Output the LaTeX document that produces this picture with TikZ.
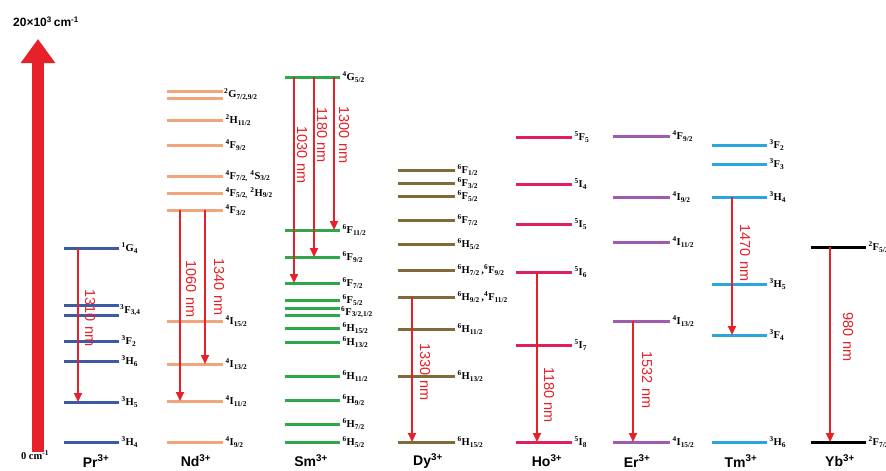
\documentclass[tikz,border=0pt]{standalone}
\usepackage{fontspec}
\setmainfont{Liberation Serif}
\newfontfamily\sansf{Liberation Sans}
\usetikzlibrary{arrows.meta}
\definecolor{prc}{HTML}{3B5BA5}
\definecolor{ndc}{HTML}{F2A47C}
\definecolor{smc}{HTML}{2DA84A}
\definecolor{dyc}{HTML}{7F6B3A}
\definecolor{hoc}{HTML}{E0205C}
\definecolor{erc}{HTML}{A05AAE}
\definecolor{tmc}{HTML}{2AA5DD}
\definecolor{arc}{HTML}{E62129}
\newcommand\tl[3]{\textsuperscript{#1}#2\textsubscript{#3}}
\newcommand\lv[6]{\draw[lvl,draw=#5] (#2,#4) -- (#3,#4) node[lab] (#1) {#6};}
\newcommand\bareline[4]{\draw[lvl,draw=#4] (#1,#3) -- (#2,#3);}
\tikzset{
 lvl/.style={line width=3pt},
 lab/.style={anchor=west,inner sep=1pt,font=\fontsize{10.5}{11}\selectfont\bfseries},
 tr/.style={draw=arc,line width=2.1pt,-{Triangle[length=9pt,width=8pt]}},
 wl/.style={text=arc,rotate=-90,inner sep=0pt,font=\sansf\fontsize{14.5}{16}\selectfont},
 ion/.style={inner sep=0pt,font=\sansf\bfseries\fontsize{14}{16}\selectfont},
}
\begin{document}
\begin{tikzpicture}[x=1pt,y=-1pt]
\useasboundingbox (0,0) rectangle (886,471);
\clip (0,0) rectangle (886,471);
% energy axis
\coordinate (axb) at (38,452);
\coordinate (axt) at (38,39);
\draw[draw=arc,line width=12pt,-{Triangle[length=24pt,width=33pt]}] (axb) -- (axt);
\node[inner sep=0pt,font=\sansf\bfseries\fontsize{12}{14}\selectfont] (top) at (46,22) {20×10\textsuperscript{3}\,cm\textsuperscript{-1}};
\node[inner sep=0pt,font=\bfseries\fontsize{10.5}{12}\selectfont] (zero) at (35,455) {0 cm\textsuperscript{-1}};
% Pr
\lv{pr1}{64}{119}{248}{prc}{\tl{1}{G}{4}}
\bareline{64}{119}{305}{prc}
\bareline{64}{119}{315}{prc}
\node[lab] (pr2) at (119,310) {\tl{3}{F}{3,4}};
\lv{pr3}{64}{119}{341}{prc}{\tl{3}{F}{2}}
\lv{pr4}{64}{119}{361}{prc}{\tl{3}{H}{6}}
\lv{pr5}{64}{119}{402}{prc}{\tl{3}{H}{5}}
\lv{pr6}{64}{119}{442}{prc}{\tl{3}{H}{4}}
\coordinate (pra) at (78,248); \coordinate (prb) at (78,402);
\draw[tr] (pra) -- (prb);
\node[wl] (prw) at (90,318) {1310 nm};
\node[ion] (prn) at (96,461) {Pr\textsuperscript{3+}};
% Nd
\bareline{167}{223}{91}{ndc}
\bareline{167}{223}{98}{ndc}
\node[lab] (nd1) at (223,94.5) {\tl{2}{G}{7/2,9/2}};
\lv{nd2}{167}{223}{120}{ndc}{\tl{2}{H}{11/2}}
\lv{nd3}{167}{223}{145}{ndc}{\tl{4}{F}{9/2}}
\lv{nd4}{167}{223}{176}{ndc}{\tl{4}{F}{7/2,} \tl{4}{S}{3/2}}
\lv{nd5}{167}{223}{193}{ndc}{\tl{4}{F}{5/2,} \tl{2}{H}{9/2}}
\lv{nd6}{167}{223}{210}{ndc}{\tl{4}{F}{3/2}}
\lv{nd7}{167}{223}{321}{ndc}{\tl{4}{I}{15/2}}
\lv{nd8}{167}{223}{364}{ndc}{\tl{4}{I}{13/2}}
\lv{nd9}{167}{223}{401}{ndc}{\tl{4}{I}{11/2}}
\lv{nd10}{167}{223}{442}{ndc}{\tl{4}{I}{9/2}}
\coordinate (nda) at (180,210); \coordinate (ndb) at (180,401);
\coordinate (ndc1) at (205,210); \coordinate (ndd) at (205,364);
\draw[tr] (nda) -- (ndb);
\draw[tr] (ndc1) -- (ndd);
\node[wl] (ndw1) at (191,289) {1060 nm};
\node[wl] (ndw2) at (219,287) {1340 nm};
\node[ion] (ndn) at (196,461) {Nd\textsuperscript{3+}};
% Sm
\lv{sm1}{285}{340}{77}{smc}{\tl{4}{G}{5/2}}
\lv{sm2}{285}{340}{230}{smc}{\tl{6}{F}{11/2}}
\lv{sm3}{285}{340}{257}{smc}{\tl{6}{F}{9/2}}
\lv{sm4}{285}{340}{283}{smc}{\tl{6}{F}{7/2}}
\lv{sm5}{285}{340}{300}{smc}{\tl{6}{F}{5/2}}
\bareline{285}{340}{308}{smc}
\bareline{285}{340}{315}{smc}
\node[lab] (sm6) at (340,312) {\tl{6}{F}{3/2,1/2}};
\lv{sm7}{285}{340}{328}{smc}{\tl{6}{H}{15/2}}
\lv{sm8}{285}{340}{342}{smc}{\tl{6}{H}{13/2}}
\lv{sm9}{285}{340}{376}{smc}{\tl{6}{H}{11/2}}
\lv{sm10}{285}{340}{400}{smc}{\tl{6}{H}{9/2}}
\lv{sm11}{285}{340}{424}{smc}{\tl{6}{H}{7/2}}
\lv{sm12}{285}{340}{442}{smc}{\tl{6}{H}{5/2}}
\coordinate (sma) at (294,77); \coordinate (smb) at (294,283);
\coordinate (smc1) at (314,77); \coordinate (smd) at (314,257);
\coordinate (sme) at (334,77); \coordinate (smf) at (334,230);
\draw[tr] (sma) -- (smb);
\draw[tr] (smc1) -- (smd);
\draw[tr] (sme) -- (smf);
\node[wl] (smw1) at (302,155) {1030 nm};
\node[wl] (smw2) at (322,135) {1180 nm};
\node[wl] (smw3) at (344,135) {1300 nm};
\node[ion] (smn) at (311,461) {Sm\textsuperscript{3+}};
% Dy
\lv{dy1}{398}{455}{170}{dyc}{\tl{6}{F}{1/2}}
\lv{dy2}{398}{455}{183}{dyc}{\tl{6}{F}{3/2}}
\lv{dy3}{398}{455}{196}{dyc}{\tl{6}{F}{5/2}}
\lv{dy4}{398}{455}{220}{dyc}{\tl{6}{F}{7/2}}
\lv{dy5}{398}{455}{244}{dyc}{\tl{6}{H}{5/2}}
\lv{dy6}{398}{455}{270}{dyc}{\tl{6}{H}{7/2}\,,\tl{6}{F}{9/2}}
\lv{dy7}{398}{455}{297}{dyc}{\tl{6}{H}{9/2}\,,\tl{4}{F}{11/2}}
\lv{dy8}{398}{455}{329}{dyc}{\tl{6}{H}{11/2}}
\lv{dy9}{398}{455}{376}{dyc}{\tl{6}{H}{13/2}}
\lv{dy10}{398}{455}{442}{dyc}{\tl{6}{H}{15/2}}
\coordinate (dya) at (412,297); \coordinate (dyb) at (412,442);
\draw[tr] (dya) -- (dyb);
\node[wl] (dyw) at (425,372) {1330 nm};
\node[ion] (dyn) at (428,461) {Dy\textsuperscript{3+}};
% Ho
\lv{ho1}{516}{572}{137}{hoc}{\tl{5}{F}{5}}
\lv{ho2}{516}{572}{184}{hoc}{\tl{5}{I}{4}}
\lv{ho3}{516}{572}{224}{hoc}{\tl{5}{I}{5}}
\lv{ho4}{516}{572}{272}{hoc}{\tl{5}{I}{6}}
\lv{ho5}{516}{572}{345}{hoc}{\tl{5}{I}{7}}
\lv{ho6}{516}{572}{442}{hoc}{\tl{5}{I}{8}}
\coordinate (hoa) at (537,272); \coordinate (hob) at (537,442);
\draw[tr] (hoa) -- (hob);
\node[wl] (how) at (549,395) {1180 nm};
\node[ion] (hon) at (547,461) {Ho\textsuperscript{3+}};
% Er
\lv{er1}{613}{670}{136}{erc}{\tl{4}{F}{9/2}}
\lv{er2}{613}{670}{197}{erc}{\tl{4}{I}{9/2}}
\lv{er3}{613}{670}{242}{erc}{\tl{4}{I}{11/2}}
\lv{er4}{613}{670}{321}{erc}{\tl{4}{I}{13/2}}
\lv{er5}{613}{670}{442}{erc}{\tl{4}{I}{15/2}}
\coordinate (era) at (633,321); \coordinate (erb) at (633,442);
\draw[tr] (era) -- (erb);
\node[wl] (erw) at (647,380) {1532 nm};
\node[ion] (ern) at (637,461) {Er\textsuperscript{3+}};
% Tm
\lv{tm1}{712}{767}{145}{tmc}{\tl{3}{F}{2}}
\lv{tm2}{712}{767}{164}{tmc}{\tl{3}{F}{3}}
\lv{tm3}{712}{767}{197}{tmc}{\tl{3}{H}{4}}
\lv{tm4}{712}{767}{284}{tmc}{\tl{3}{H}{5}}
\lv{tm5}{712}{767}{335}{tmc}{\tl{3}{F}{4}}
\lv{tm6}{712}{767}{442}{tmc}{\tl{3}{H}{6}}
\coordinate (tma) at (732,197); \coordinate (tmb) at (732,335);
\draw[tr] (tma) -- (tmb);
\node[wl] (tmw) at (745,253) {1470 nm};
\node[ion] (tmn) at (741,461) {Tm\textsuperscript{3+}};
% Yb
\lv{yb1}{811}{866}{247}{black}{\tl{2}{F}{5/2}}
\lv{yb2}{811}{866}{442}{black}{\tl{2}{F}{7/2}}
\coordinate (yba) at (830,247); \coordinate (ybb) at (830,442);
\draw[tr] (yba) -- (ybb);
\node[wl] (ybw) at (848,337) {980 nm};
\node[ion] (ybn) at (840,461) {Yb\textsuperscript{3+}};
\end{tikzpicture}
\end{document}
